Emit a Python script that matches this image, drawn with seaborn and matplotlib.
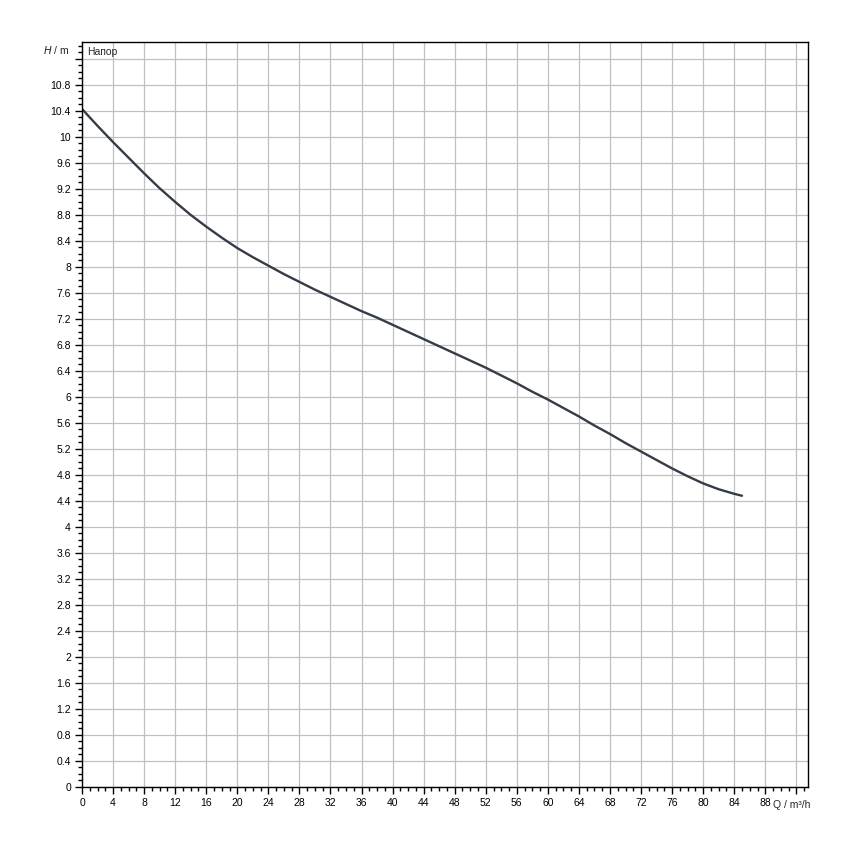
import numpy as np
import pandas as pd
import seaborn as sns
import matplotlib
matplotlib.use("Agg")
import matplotlib.pyplot as plt
from matplotlib.ticker import MultipleLocator, FixedLocator, FuncFormatter

# Kennlinie (Q in m³/h, H in m)
q_vals = [0, 2, 4, 6, 8, 10, 12, 14, 16, 18, 20, 22, 24, 26, 28, 30, 32, 34,
          36, 38, 40, 42, 44, 46, 48, 50, 52, 54, 56, 58, 60, 62, 64, 66, 68,
          70, 72, 74, 76, 78, 80, 82, 84, 85]
h_vals = [10.43, 10.17, 9.92, 9.68, 9.44, 9.21, 9.0, 8.8, 8.62, 8.45, 8.29,
          8.15, 8.02, 7.89, 7.77, 7.65, 7.54, 7.43, 7.32, 7.22, 7.11, 7.0,
          6.89, 6.78, 6.67, 6.56, 6.45, 6.33, 6.21, 6.08, 5.96, 5.83, 5.70,
          5.56, 5.43, 5.29, 5.16, 5.03, 4.90, 4.78, 4.67, 4.58, 4.51, 4.48]

x_major = list(range(0, 93, 4))
y_major = [round(v * 0.4, 1) for v in range(0, 29)]

df = pd.DataFrame({"Q": q_vals, "H": h_vals})

sns.set_style("ticks")
plt.rcParams["font.family"] = ["Liberation Sans", "DejaVu Sans"]

fig = plt.figure(figsize=(8.5, 8.5), dpi=100)
ax = fig.add_axes([82 / 850, 63 / 850, 726 / 850, 745 / 850])

sns.lineplot(data=df, x="Q", y="H", color="#343c48", linewidth=1.7, ax=ax)

ax.set_xlim(0, 93.5)
ax.set_ylim(0, 11.46)

ax.xaxis.set_major_locator(FixedLocator(x_major))
ax.xaxis.set_minor_locator(MultipleLocator(1))
ax.yaxis.set_major_locator(FixedLocator(y_major))
ax.yaxis.set_minor_locator(MultipleLocator(0.1))

ax.xaxis.set_major_formatter(FuncFormatter(lambda v, p: "" if v > 90 else f"{v:g}"))
ax.yaxis.set_major_formatter(FuncFormatter(lambda v, p: "" if v > 11 else f"{v:g}"))

ax.grid(True, which="major", color="#c0c0c0", linewidth=0.9)
ax.set_axisbelow(True)

ax.tick_params(which="major", direction="out", length=5, width=1, colors="black",
               labelsize=7.5, pad=3)
ax.tick_params(which="minor", direction="out", length=3, width=1, colors="black")

for s in ax.spines.values():
    s.set_visible(True)
    s.set_color("black")
    s.set_linewidth(1)

ax.set_xlabel("")
ax.set_ylabel("")

# Achsbeschriftungen im Stil des Originals
ax.annotate(r"$H$ / m", xy=(0, 11.33), xycoords="data", xytext=(-9, 0),
            textcoords="offset points", ha="right", va="center", fontsize=7.5)
ax.text(0.6, 11.3, "Напор", ha="left", va="center", fontsize=7.5)
ax.annotate("Q / m³/h", xy=(91.4, 0), xycoords="data", xytext=(0, -9),
            textcoords="offset points", ha="center", va="top", fontsize=7.5)

fig.savefig("out.png", dpi=100)
